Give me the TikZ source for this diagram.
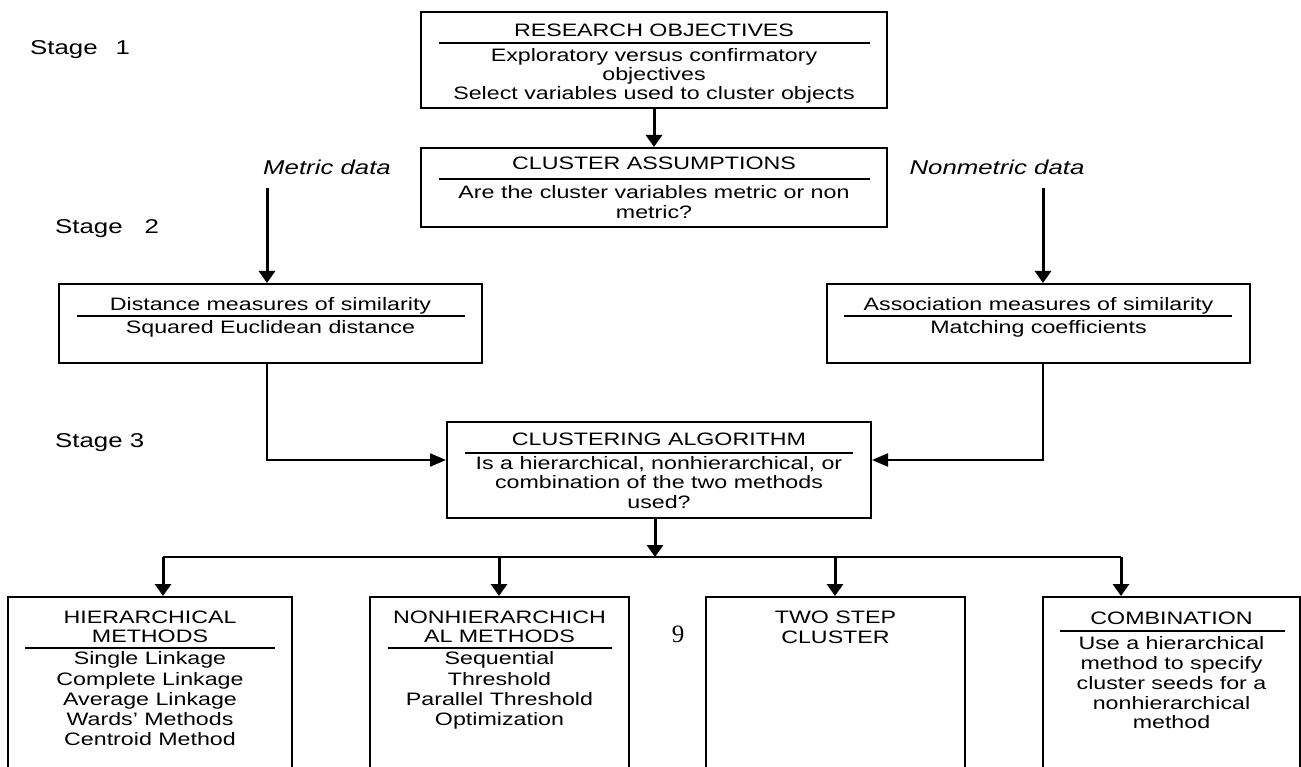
\documentclass[tikz,border=0pt]{standalone}
\usepackage{fontspec}
\setmainfont{Liberation Sans}[FakeStretch=1.29]
\newfontfamily\numfont{Liberation Serif}
\usetikzlibrary{arrows.meta}

% one centred line of text, placed by its baseline
\newcommand\tline[4]{\node[txt] (#1) at (#2,#3) {#4};}

\begin{document}
\begin{tikzpicture}[x=1pt,y=-1pt,
  box/.style={draw, line width=2pt, inner sep=0pt, rectangle},
  txt/.style={inner sep=0pt, anchor=base, font=\fontsize{18}{20}\selectfont},
  lbl/.style={inner sep=0pt, anchor=base west, font=\fontsize{20}{22}\selectfont},
  dlbl/.style={inner sep=0pt, anchor=base, font=\fontsize{20}{22}\selectfont\itshape},
  rule/.style={line width=2.2pt},
  flow/.style={line width=3pt, -{Triangle[width=16pt,length=12pt]}},
  elbow/.style={line width=2pt, -{Triangle[width=13pt,length=16pt]}},
  bus/.style={line width=2pt},
]
\fill[white] (0,0) rectangle (1301,767);
\clip (0,0) rectangle (1301,767);

% ---------- stage labels ----------
\node[lbl] (s1) at (30,55) {Stage\hspace{0.9em}1};
\node[lbl] (s2) at (55,234) {Stage\hspace{1.1em}2};
\node[lbl] (s3) at (55,447) {Stage 3};

% ---------- stage 1 ----------
\node[box, minimum width=466pt, minimum height=96pt] (ro) at (654,60) {};
\tline{roT}{654}{36.5}{RESEARCH OBJECTIVES}
\draw[rule] (439,43) -- (870,43);
\tline{ro1}{654}{61.5}{Exploratory versus confirmatory}
\tline{ro2}{654}{80.5}{objectives}
\tline{ro3}{654}{99.5}{Select variables used to cluster objects}

% ---------- stage 2 ----------
\node[box, minimum width=466pt, minimum height=79pt] (ca) at (654,187.5) {};
\tline{caT}{654}{169.5}{CLUSTER ASSUMPTIONS}
\draw[rule] (439,179) -- (870,179);
\tline{ca1}{654}{198.5}{Are the cluster variables metric or non}
\tline{ca2}{654}{218.5}{metric?}
\draw[flow] (ro.south) -- (ca.north);

\node[dlbl] (md) at (327,175) {Metric data};
\node[dlbl] (nd) at (997,175) {Nonmetric data};

\node[box, minimum width=423pt, minimum height=79pt] (dist) at (270.5,323.5) {};
\tline{diT}{270.5}{310.5}{Distance measures of similarity}
\draw[rule] (77,316) -- (465,316);
\tline{di1}{270.5}{333.5}{Squared Euclidean distance}

\node[box, minimum width=423pt, minimum height=79pt] (assoc) at (1038.5,323.5) {};
\tline{asT}{1038.5}{310.5}{Association measures of similarity}
\draw[rule] (844,316) -- (1232,316);
\tline{as1}{1038.5}{333.5}{Matching coefficients}

\coordinate (mTop) at (267,188);
\coordinate (nTop) at (1043,188);
\draw[flow] (mTop) -- (mTop |- dist.north);
\draw[flow] (nTop) -- (nTop |- assoc.north);

% ---------- stage 3 ----------
\node[box, minimum width=424pt, minimum height=96pt] (clu) at (659,470) {};
\tline{clT}{659}{445.5}{CLUSTERING ALGORITHM}
\draw[rule] (465,453) -- (853,453);
\tline{cl1}{659}{469.5}{Is a hierarchical, nonhierarchical, or}
\tline{cl2}{659}{488.5}{combination of the two methods}
\tline{cl3}{659}{508.5}{used?}

\coordinate (jL) at (267,460);
\coordinate (jR) at (1043,460);
\draw[elbow] (mTop |- dist.south) -- (jL) -- (jL -| clu.west);
\draw[elbow] (nTop |- assoc.south) -- (jR) -- (jR -| clu.east);

% ---------- method boxes ----------
\coordinate (bus) at (655,557);
\coordinate (bL) at (163,557);
\coordinate (bB) at (499,557);
\coordinate (bC) at (835,557);
\coordinate (bR) at (1121,557);
\draw[flow] (bus |- clu.south) -- (bus);
\draw[bus] (bL) -- (bR);

\node[box, minimum width=284pt, minimum height=203pt] (hier) at (150,698.5) {};
\node[box, minimum width=259pt, minimum height=203pt] (nonh) at (499.5,698.5) {};
\node[box, minimum width=259pt, minimum height=203pt] (two) at (835.5,698.5) {};
\node[box, minimum width=257pt, minimum height=203pt] (comb) at (1171.5,698.5) {};

\draw[flow] (bL) -- (bL |- hier.north);
\draw[flow] (bB) -- (bB |- nonh.north);
\draw[flow] (bC) -- (bC |- two.north);
\draw[flow] (bR) -- (bR |- comb.north);

\tline{h1}{150}{623.5}{HIERARCHICAL}
\tline{h2}{150}{642.5}{METHODS}
\draw[rule] (25,648) -- (275,648);
\tline{h3}{150}{664.5}{Single Linkage}
\tline{h4}{150}{685.5}{Complete Linkage}
\tline{h5}{150}{705.5}{Average Linkage}
\tline{h6}{150}{725.5}{Wards’ Methods}
\tline{h7}{150}{745.5}{Centroid Method}

\tline{n1}{499.5}{623.5}{NONHIERARCHICH}
\tline{n2}{499.5}{642.5}{AL METHODS}
\draw[rule] (388,648) -- (612,648);
\tline{n3}{499.5}{664.5}{Sequential}
\tline{n4}{499.5}{685.5}{Threshold}
\tline{n5}{499.5}{705.5}{Parallel Threshold}
\tline{n6}{499.5}{725.5}{Optimization}

\node[inner sep=0pt, anchor=base, font=\numfont\fontsize{25}{27}\selectfont] (nine) at (678,642) {9};

\tline{t1}{835.5}{623.5}{TWO STEP}
\tline{t2}{835.5}{643.5}{CLUSTER}

\tline{c1}{1171.5}{624.5}{COMBINATION}
\draw[rule] (1060,631) -- (1285,631);
\tline{c2}{1171.5}{649.5}{Use a hierarchical}
\tline{c3}{1171.5}{669.5}{method to specify}
\tline{c4}{1171.5}{689.5}{cluster seeds for a}
\tline{c5}{1171.5}{709.5}{nonhierarchical}
\tline{c6}{1171.5}{728.5}{method}
\end{tikzpicture}
\end{document}
